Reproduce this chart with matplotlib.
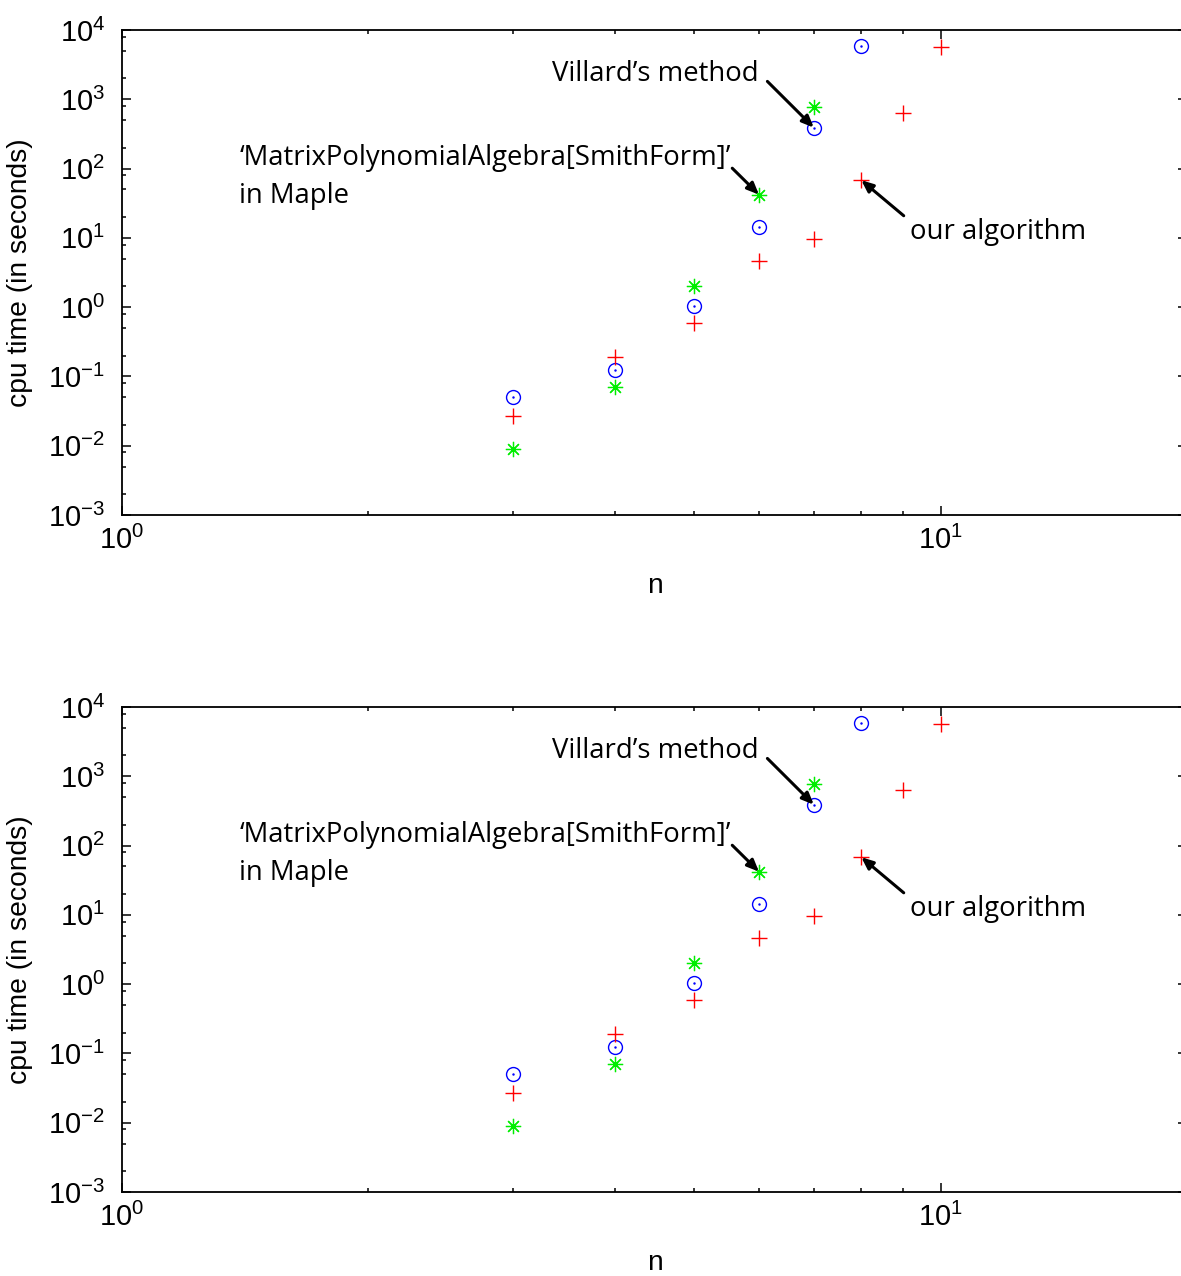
import matplotlib
matplotlib.use("Agg")
import matplotlib.pyplot as plt
from matplotlib.ticker import LogLocator, NullFormatter

# ======= DATA =======
n_villard = [3, 4, 5, 6, 7, 8]
t_villard = [0.050, 0.124, 1.03, 14.5, 390, 5950]

n_ours = [3, 4, 5, 6, 7, 8, 9, 10]
t_ours = [0.027, 0.19, 0.60, 4.6, 9.5, 68, 627, 5630]

n_maple = [3, 4, 5, 6, 7]
t_maple = [0.0089, 0.070, 2.0, 42, 766]

xlabel = "n"
ylabel = "cpu time (in seconds)"
label_villard = "Villard\u2019s method"
label_maple = "\u2018MatrixPolynomialAlgebra[SmithForm]\u2019\nin Maple"
label_ours = "our algorithm"

plt.rcParams['font.family'] = ['Liberation Sans', 'DejaVu Sans']
plt.rcParams['mathtext.default'] = 'regular'

note_font = 'Open Sans'
fs_ticks = 21
fs_label = 20.3
fs_note = 19.8

fig = plt.figure(figsize=(11.81, 12.76), dpi=100)

arrow = dict(arrowstyle='-|>,head_length=0.7,head_width=0.3', color='k',
             lw=2.2, shrinkA=0, shrinkB=0)


def draw_panel(ax):
    ax.plot(n_villard, t_villard, linestyle='none', marker='o', ms=10,
            mfc='none', mec='blue', mew=1.0)
    ax.plot(n_villard, t_villard, linestyle='none', marker='.', ms=1.5,
            color='blue')
    ax.plot(n_ours, t_ours, linestyle='none', marker='+', ms=11,
            color='red', mew=1.0)
    ax.plot(n_maple, t_maple, linestyle='none', marker=(8, 2, 0), ms=11,
            color='#00ee00', mew=0.9)

    ax.set_xscale('log')
    ax.set_yscale('log')
    ax.set_xlim(1, 20)
    ax.set_ylim(1e-3, 1e4)
    ax.xaxis.set_major_locator(LogLocator(base=10, numticks=10))
    ax.xaxis.set_minor_locator(LogLocator(base=10, subs=range(2, 10), numticks=10))
    ax.xaxis.set_minor_formatter(NullFormatter())
    ax.yaxis.set_major_locator(LogLocator(base=10, numticks=20))
    ax.yaxis.set_minor_locator(LogLocator(base=10, subs=[2, 5, 8], numticks=20))
    ax.yaxis.set_minor_formatter(NullFormatter())

    ax.tick_params(which='both', direction='in', top=True, right=True,
                   width=1.1, labelsize=fs_ticks)
    ax.tick_params(which='major', length=6.5)
    ax.tick_params(which='minor', length=3.2)
    ax.tick_params(axis='x', which='major', pad=8)
    ax.tick_params(axis='y', which='major', pad=12)
    for sp in ax.spines.values():
        sp.set_linewidth(1.3)

    ax.set_xlabel(xlabel, fontsize=fs_label, labelpad=13)
    ax.set_ylabel(ylabel, fontsize=fs_label)
    ax.yaxis.set_label_coords(-0.084, 0.5)

    # annotations
    ax.text(0.598, 0.895, label_villard, transform=ax.transAxes,
            fontsize=fs_note, family=note_font, ha='right', va='baseline')
    ax.annotate('', xy=(n_villard[4], t_villard[4]),
                xytext=(0.606, 0.894), textcoords='axes fraction',
                arrowprops=arrow)

    ax.text(0.110, 0.643, label_maple, transform=ax.transAxes,
            fontsize=fs_note, family=note_font, ha='left', va='baseline',
            linespacing=1.49)
    ax.annotate('', xy=(n_maple[3], t_maple[3]),
                xytext=(0.573, 0.715), textcoords='axes fraction',
                arrowprops=arrow)

    ax.text(0.740, 0.569, label_ours, transform=ax.transAxes,
            fontsize=fs_note, family=note_font, ha='left', va='baseline')
    ax.annotate('', xy=(n_ours[5], t_ours[5]),
                xytext=(0.734, 0.617), textcoords='axes fraction',
                arrowprops=arrow)


ax_top = fig.add_axes([0.1033, 0.5964, 0.9018, 0.3801])
ax_bot = fig.add_axes([0.1033, 0.0658, 0.9018, 0.3801])
draw_panel(ax_top)
draw_panel(ax_bot)

fig.savefig("out.png", dpi=100)
